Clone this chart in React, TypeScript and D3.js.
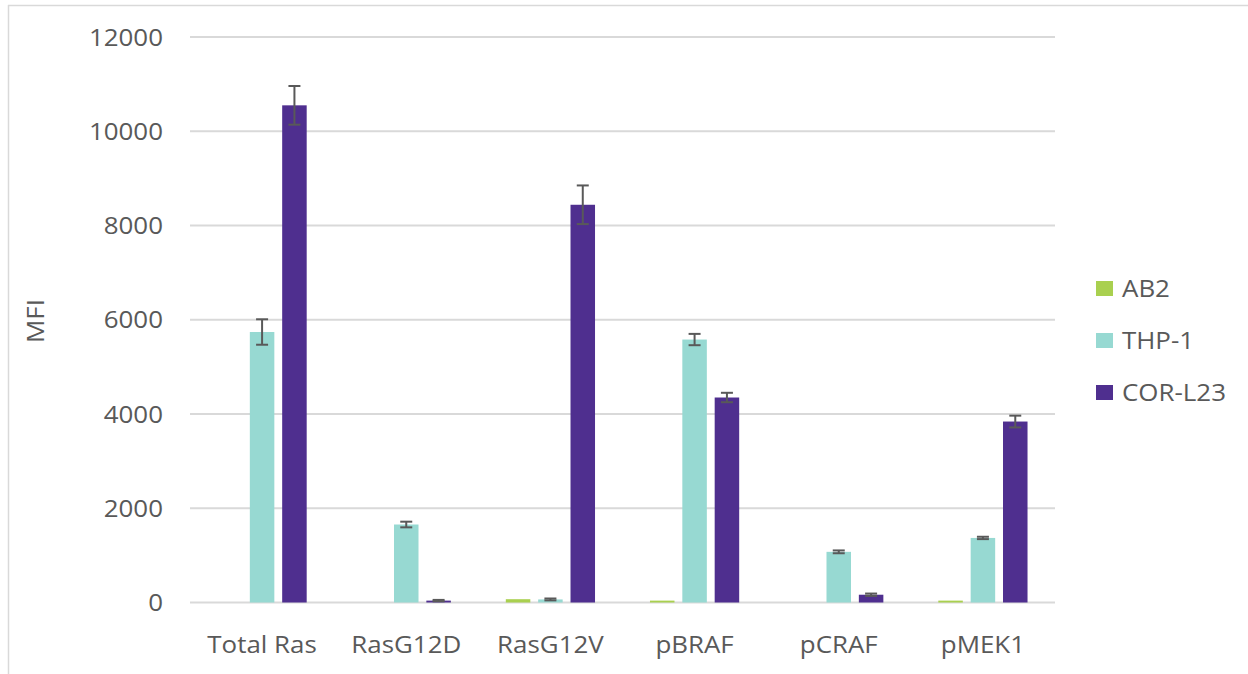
import React from "react";
import * as d3 from "d3";

const categories = ["Total Ras", "RasG12D", "RasG12V", "pBRAF", "pCRAF", "pMEK1"];
const seriesNames = ["AB2", "THP-1", "COR-L23"];
const ab2Values = [0, 0, 70, 40, 0, 40];
const ab2Errors = [0, 0, 0, 0, 0, 0];
const thp1Values = [5740, 1655, 65, 5580, 1075, 1370];
const thp1Errors = [270, 60, 20, 120, 30, 25];
const corValues = [10550, 40, 8440, 4350, 165, 3840];
const corErrors = [410, 15, 410, 100, 25, 125];
const yTicks = [0, 2000, 4000, 6000, 8000, 10000, 12000];
const colors = ["#A9D04F", "#97D9D2", "#4F2F8F"];

const W = 1248;
const H = 674;
const FONT = "'Open Sans', sans-serif";
const FS = 24;
const SX = 1.08;
const TEXT = "#595959";

function T({ x, y, anchor = "start", children, rotate = 0 }: any) {
  const tr = rotate
    ? `translate(${x},${y}) rotate(${rotate}) scale(${SX},1)`
    : `translate(${x},${y}) scale(${SX},1)`;
  return (
    <text
      transform={tr}
      textAnchor={anchor}
      fontFamily={FONT}
      fontSize={FS}
      fill={TEXT}
    >
      {children}
    </text>
  );
}

export default function App() {
  const x = d3.scaleBand<string>().domain(categories).range([190, 1055]).padding(0);
  const y = d3.scaleLinear().domain([0, 12000]).range([602.5, 37]);
  const step = x.bandwidth();
  const barW = step * 0.17;
  const barStep = barW * 1.32;
  const series = [
    { values: ab2Values, errors: ab2Errors },
    { values: thp1Values, errors: thp1Errors },
    { values: corValues, errors: corErrors },
  ];

  return (
    <svg
      width={W}
      height={H}
      style={{ position: "absolute", left: 0, top: 0, background: "#fff" }}
    >
      <rect x={0} y={0} width={W} height={H} fill="#fff" />
      <line x1={8} x2={W} y1={5.5} y2={5.5} stroke="#d9d9d9" strokeWidth={1.5} />
      <line x1={8.5} x2={8.5} y1={5} y2={H} stroke="#d9d9d9" strokeWidth={1.5} />

      {yTicks.map((t) => (
        <g key={t}>
          <line x1={190} x2={1055} y1={y(t)} y2={y(t)} stroke="#d9d9d9" strokeWidth={2} />
          <T x={163} y={y(t) + 8.5} anchor="end">
            {t}
          </T>
        </g>
      ))}

      {categories.map((c, i) => {
        const center = (x(c) as number) + step / 2;
        return (
          <g key={c}>
            {series.map((s, j) => {
              const v = s.values[i];
              const e = s.errors[i];
              const cx = center + (j - 1) * barStep;
              return (
                <g key={j}>
                  {v > 0 && (
                    <rect
                      x={cx - barW / 2}
                      y={y(v)}
                      width={barW}
                      height={y(0) - y(v)}
                      fill={colors[j]}
                    />
                  )}
                  {e > 0 && (
                    <g stroke="#595959" strokeWidth={2}>
                      <line x1={cx} x2={cx} y1={y(v + e)} y2={y(v - e)} />
                      <line x1={cx - 6} x2={cx + 6} y1={y(v + e)} y2={y(v + e)} />
                      <line x1={cx - 6} x2={cx + 6} y1={y(v - e)} y2={y(v - e)} />
                    </g>
                  )}
                </g>
              );
            })}
            <T x={center} y={653} anchor="middle">
              {c}
            </T>
          </g>
        );
      })}

      <T x={44} y={321} anchor="middle" rotate={-90}>
        MFI
      </T>

      {seriesNames.map((n, j) => {
        const ly = 288.5 + j * 52;
        return (
          <g key={n}>
            <rect x={1096} y={ly - 7.5} width={17} height={15} fill={colors[j]} />
            <T x={1122} y={ly + 8.5}>
              {n}
            </T>
          </g>
        );
      })}
    </svg>
  );
}
